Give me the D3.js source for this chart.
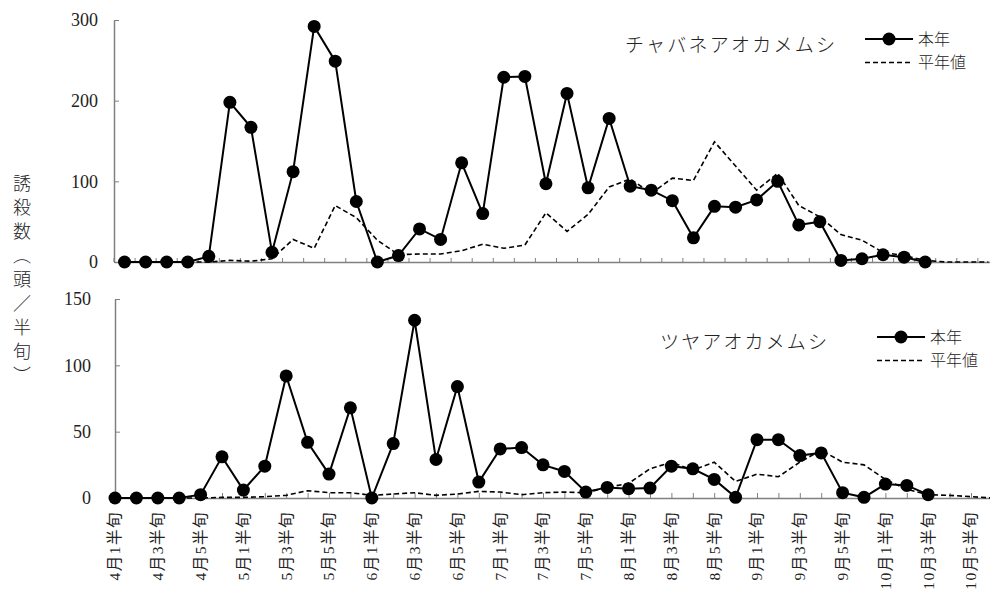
<!DOCTYPE html>
<html>
<head>
<meta charset="utf-8">
<script src="https://cdn.jsdelivr.net/npm/d3@7"></script>
<style>
  body { margin: 0; background: #fff; }
  text { font-family: "Liberation Serif", "Noto Sans CJK JP", serif; fill: #222; }
  .jp { font-family: "Noto Sans CJK JP", sans-serif; font-weight: 300; }
</style>
</head>
<body>
<svg id="chart" width="990" height="592"></svg>
<script>
// 4月1半旬 ... 10月6半旬
let months = [4, 5, 6, 7, 8, 9, 10]
let periods = []
for (let m of months) {
  for (let h = 1; h <= 6; h++) periods.push(m + "月" + h + "半旬")
}

// チャバネアオカメムシ
let chabaneThisYear = [0, 0, 0, 0, 7, 198, 167, 12, 112, 292, 249, 75, 0, 8, 41, 28, 123, 60,
  229, 230, 97, 209, 92, 178, 94, 89, 76, 30, 69, 68, 77, 100, 46, 50, 2, 4, 9, 6, 0,
  null, null, null]
let chabaneNormal = [0, 0, 0, 0, 0, 2, 1, 4, 28, 17, 70, 55, 27, 9, 10, 10, 14, 22,
  17, 21, 61, 38, 59, 93, 103, 85, 104, 101, 149, 119, 89, 110, 70, 56, 34, 27, 12, 8, 2,
  0, 0, 0]

// ツヤアオカメムシ
let tsuyaThisYear = [0, 0, 0, 0, 2.5, 31, 6, 24, 92, 42, 18, 68, 0, 41, 134, 29, 84, 12,
  37, 38, 25, 20, 4.5, 8, 7, 7.5, 24, 22, 14, 0.5, 44, 44, 32, 34, 4, 0.5, 10.5, 9.5, 2.5,
  null, null, null]
let tsuyaNormal = [0, 0, 0, 0, 0, 0.5, 0.5, 1, 2, 5.5, 4, 4, 2, 3, 4, 2, 3, 5,
  4.5, 2.5, 4, 4.5, 4, 8, 11, 22, 27, 21, 27, 12.5, 18, 16, 27, 36, 27, 25, 14, 6.5, 2.5,
  2, 1, 0]

let chabaneTicks = [0, 100, 200, 300]
let tsuyaTicks = [0, 50, 100, 150]
let tickLabels = periods.filter((d, i) => i % 2 === 0)

let svg = d3.select("#chart")
let axisColor = "#808080"

function drawPanel(opt) {
  let g = svg.append("g")
  let x = opt.x
  let y = opt.y
  let cx = d => x(d) + (x.bandwidth ? x.bandwidth() / 2 : 0)

  // x axis with ticks pointing up
  let xAxis = g.append("g")
    .attr("transform", `translate(0,${y(0)})`)
    .call(d3.axisBottom(x).tickSize(-opt.xTick).tickSizeOuter(0).tickFormat(""))
  if (x.bandwidth) {
    // ticks on category boundaries
    xAxis.selectAll(".tick line").attr("transform", `translate(${-x.bandwidth() / 2},0)`)
  }
  xAxis.select(".domain").attr("stroke", axisColor).attr("stroke-width", 1.5)
  xAxis.selectAll(".tick line").attr("stroke", axisColor).attr("stroke-width", 1)

  let yAxis = g.append("g")
    .attr("transform", `translate(${x.range()[0]},0)`)
    .call(d3.axisLeft(y).tickValues(opt.yTicks).tickSize(-5).tickSizeOuter(0).tickPadding(opt.yPad))
  yAxis.select(".domain").attr("stroke", axisColor).attr("stroke-width", 1.5)
  yAxis.selectAll(".tick line").attr("stroke", axisColor)
  yAxis.selectAll(".tick text")
    .style("font-family", '"Liberation Serif", serif')
    .style("font-size", "18px")
    .attr("fill", "#222")

  let normalLine = d3.line()
    .x((d, i) => cx(periods[i]))
    .y(d => y(d))
  g.append("path")
    .datum(opt.normal)
    .attr("d", normalLine)
    .attr("fill", "none")
    .attr("stroke", "#000")
    .attr("stroke-width", 1.6)
    .attr("stroke-dasharray", "5,3")

  let thisLine = d3.line()
    .defined(d => d !== null)
    .x((d, i) => cx(periods[i]))
    .y(d => y(d))
  g.append("path")
    .datum(opt.thisYear)
    .attr("d", thisLine)
    .attr("fill", "none")
    .attr("stroke", "#000")
    .attr("stroke-width", 2)

  g.selectAll("circle.pt")
    .data(opt.thisYear.map((v, i) => ({ v: v, p: periods[i] })).filter(d => d.v !== null))
    .join("circle")
    .attr("class", "pt")
    .attr("cx", d => cx(d.p))
    .attr("cy", d => y(d.v))
    .attr("r", 6.5)
    .attr("fill", "#000")

  // title
  g.append("text")
    .attr("class", "jp")
    .attr("x", opt.titleX)
    .attr("y", opt.titleY)
    .attr("dy", "0.35em")
    .attr("textLength", opt.titleW)
    .attr("lengthAdjust", "spacing")
    .style("font-size", "19px")
    .text(opt.title)

  // legend
  let lg = g.append("g").attr("transform", `translate(${opt.legX},${opt.legY})`)
  lg.append("line").attr("x1", 0).attr("x2", 48).attr("y1", 0).attr("y2", 0)
    .attr("stroke", "#000").attr("stroke-width", 2)
  lg.append("circle").attr("cx", 24).attr("cy", 0).attr("r", 6.5).attr("fill", "#000")
  lg.append("text").attr("class", "jp").attr("x", 53).attr("y", 0).attr("dy", "0.35em")
    .style("font-size", "16px").text("本年")
  lg.append("line").attr("x1", 0).attr("x2", 48).attr("y1", 23.5).attr("y2", 23.5)
    .attr("stroke", "#000").attr("stroke-width", 1.6).attr("stroke-dasharray", "5,3")
  lg.append("text").attr("class", "jp").attr("x", 53).attr("y", 23.5).attr("dy", "0.35em")
    .style("font-size", "16px").text("平年値")

  return g
}

let xTop = d3.scaleBand().domain(periods).range([114, 114 + 42 * 21.07])
let yTop = d3.scaleLinear().domain([0, 300]).range([262, 20])
drawPanel({
  x: xTop, y: yTop, yTicks: chabaneTicks, yPad: 16, xTick: 4,
  thisYear: chabaneThisYear, normal: chabaneNormal,
  title: "チャバネアオカメムシ", titleX: 625, titleY: 45, titleW: 210,
  legX: 865, legY: 39
})

let xBottom = d3.scalePoint().domain(periods).range([115, 115 + 41 * 21.4])
let yBottom = d3.scaleLinear().domain([0, 150]).range([498, 299])
let bottom = drawPanel({
  x: xBottom, y: yBottom, yTicks: tsuyaTicks, yPad: 24, xTick: 5,
  thisYear: tsuyaThisYear, normal: tsuyaNormal,
  title: "ツヤアオカメムシ", titleX: 660, titleY: 342, titleW: 167,
  legX: 877, legY: 337
})

// rotated category labels under bottom panel
bottom.selectAll("text.xl")
  .data(tickLabels)
  .join("text")
  .attr("class", "xl")
  .attr("transform", d => `translate(${xBottom(d)},511) rotate(-90)`)
  .attr("text-anchor", "end")
  .attr("dy", "0.35em")
  .style("font-size", "15.5px")
  .style("letter-spacing", "1.5px")
  .text(d => d)

// y axis title, vertical writing
svg.append("text")
  .attr("class", "jp")
  .attr("x", 22)
  .attr("y", 174)
  .style("writing-mode", "vertical-rl")
  .style("font-size", "18px")
  .style("letter-spacing", "6px")
  .text("誘殺数（頭／半旬）")
</script>
</body>
</html>
